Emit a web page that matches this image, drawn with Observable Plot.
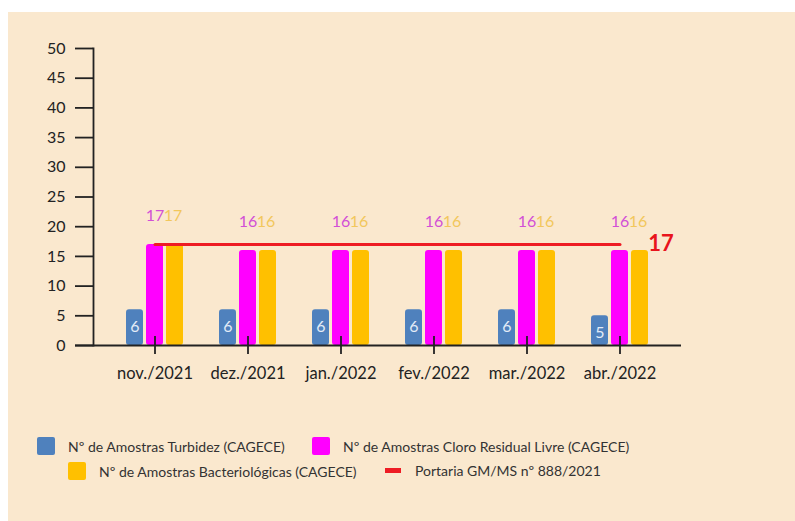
<!DOCTYPE html>
<html>
<head>
<meta charset="utf-8">
<script src="https://cdn.jsdelivr.net/npm/d3@7"></script>
<script src="https://cdn.jsdelivr.net/npm/@observablehq/plot@0.6"></script>
<style>
  html, body { margin: 0; padding: 0; background: #ffffff; }
  #panel { position: absolute; left: 8px; top: 12px; width: 787px; height: 509px; background: #FAE8CE; font-family: Lato, "Open Sans", sans-serif; }
  #chart { position: absolute; left: 0; top: 0; }
  .lg { position: absolute; display: flex; align-items: center; font-size: 14px; color: #333; white-space: nowrap; }
  .sw { width: 18px; height: 18px; margin-right: 13px; border-radius: 2px; }
  .ln { width: 16px; height: 5px; margin-right: 14px; }
</style>
</head>
<body>
<div id="panel">
  <div id="chart"></div>
  <div class="lg" style="left:29px; top:425px;"><span class="sw" style="background:#4F81BD"></span>Nº de Amostras Turbidez (CAGECE)</div>
  <div class="lg" style="left:304px; top:425px;"><span class="sw" style="background:#FF00FF"></span>Nº de Amostras Cloro Residual Livre (CAGECE)</div>
  <div class="lg" style="left:60px; top:450px;"><span class="sw" style="background:#FFC000"></span>Nº de Amostras Bacteriológicas (CAGECE)</div>
  <div class="lg" style="left:377px; top:450px;"><span class="ln" style="background:#EE1C24"></span>Portaria GM/MS nº 888/2021</div>
</div>
<script>
const months = ["nov./2021", "dez./2021", "jan./2022", "fev./2022", "mar./2022", "abr./2022"];
const turbidez = [6, 6, 6, 6, 6, 5];
const cloro = [17, 16, 16, 16, 16, 16];
const bacteriologicas = [17, 16, 16, 16, 16, 16];
const portaria = [17, 17, 17, 17, 17, 17];
const yTicks = [0, 5, 10, 15, 20, 25, 30, 35, 40, 45, 50];

const rows = (vals) => months.map((m, i) => ({m, v: vals[i]}));
const tRows = rows(turbidez), cRows = rows(cloro), bRows = rows(bacteriologicas), pRows = rows(portaria);

const barOpts = {x: "m", y: "v", insetLeft: 38, insetRight: 38, rx: 3};

const chart = Plot.plot({
  width: 787,
  height: 400,
  marginLeft: 85,
  marginRight: 114,
  marginTop: 36,
  marginBottom: 67,
  style: {background: "transparent", fontFamily: "Lato, 'Open Sans', sans-serif", color: "#222"},
  x: {type: "band", domain: months, paddingInner: 0, paddingOuter: 0.16, label: null},
  y: {domain: [0, 50], label: null},
  marks: [
    Plot.axisY({ticks: yTicks, tickSize: 18, tickPadding: 10, fontSize: 16, stroke: "#222", strokeWidth: 1.8, label: null, fill: "#222"}),
    Plot.frame({anchor: "left", stroke: "#222", strokeWidth: 1.8}),
    Plot.axisX({tickSize: 0, tickPadding: 22, fontSize: 16.5, fill: "#222", label: null}),
    Plot.barY(tRows, {...barOpts, fill: "#4F81BD", dx: -20}),
    Plot.barY(cRows, {...barOpts, fill: "#FF00FF", dx: 0}),
    Plot.barY(bRows, {...barOpts, fill: "#FFC000", dx: 20}),
    Plot.ruleY([0], {stroke: "#222", strokeWidth: 1.8, insetLeft: -18}),
    Plot.ruleX(months, {x: d => d, y1: 0, y2: 0, insetTop: -9, insetBottom: -9, stroke: "#222", strokeWidth: 1.8}),
    Plot.lineY(pRows, {x: "m", y: "v", stroke: "#EE1C24", strokeWidth: 3}),
    Plot.text(tRows, {x: "m", y: "v", text: "v", dx: -20, dy: 17, fill: "#E3ECF7", fontSize: 16}),
    Plot.text(cRows, {x: "m", y: "v", text: "v", dx: 0, dy: -29, fill: "#D24FD6", fontSize: 16}),
    Plot.text(bRows, {x: "m", y: "v", text: "v", dx: 18, dy: -29, fill: "#F2C75C", fontSize: 16}),
    Plot.text(pRows.slice(-1), {x: "m", y: "v", text: "v", dx: 41, dy: -1, fill: "#E8141C", fontSize: 22, fontWeight: "bold"})
  ]
});
document.getElementById("chart").appendChild(chart);
</script>
</body>
</html>
